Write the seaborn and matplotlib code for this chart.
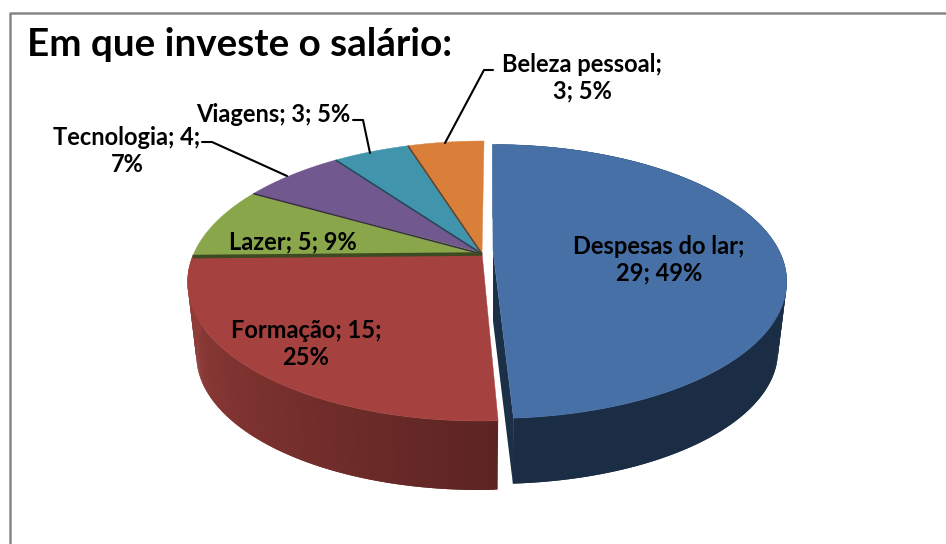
import numpy as np
import matplotlib
matplotlib.use("Agg")
import matplotlib.pyplot as plt
import seaborn as sns
from matplotlib.colors import to_rgb

# =====================================================
# Data
# =====================================================
categories = ["Despesas do lar", "Formação", "Lazer", "Tecnologia", "Viagens", "Beleza pessoal"]
values = [29, 15, 5, 4, 3, 3]
percents = [49, 25, 9, 7, 5, 5]
title = "Em que investe o salário:"

# =====================================================
# Style
# =====================================================
sns.set_theme(style="white")
plt.rcParams["font.family"] = ["Lato", "DejaVu Sans"]

palette = sns.color_palette(["#4670a6", "#a54240", "#8aa64b", "#71588f", "#4095ad", "#d97f3a"])
edge_dark = ["#1b2f47", "#5c2422", "#3d4a22", "#3a2d4a", "#1f4a57", "#6b4020"]
side_shades = {
    0: ["#2a4566", "#1b2d45", "#1b2d45", "#1b2d45", "#1b2d45"],
    1: ["#5c2422", "#6c2b29", "#7c322f", "#8a3936", "#933d3a"],
}

# top disc / bottom disc geometry in pixels; the big slice is pulled out on its own
main_geom = dict(cx=493, cy=250.5, rx=286, ry=130, k=0.226, shear=0.005, bottom_cy=321)
rest_geom = dict(cx=482, cy=253, rx=288, ry=134.4, k=0.2, shear=-0.018, bottom_cy=327)
BOTTOM_SCALE = 0.97


def project(alpha, geom, bottom=False):
    # alpha runs clockwise from 12 o'clock, radians
    u, v = np.sin(alpha), np.cos(alpha)
    s = 1 / (1 + geom["k"] * v)
    dx = geom["rx"] * u * s
    dy = -geom["ry"] * v * s
    cy = geom["cy"]
    if bottom:
        dx, dy = dx * BOTTOM_SCALE, dy * BOTTOM_SCALE
        cy = geom["bottom_cy"]
    return geom["cx"] + dx + geom["shear"] * dy, cy + dy


def shade(colors, t):
    rgb = np.array([to_rgb(c) for c in colors])
    pos = np.linspace(0, 1, len(colors))
    return [np.interp(t, pos, rgb[:, i]) for i in range(3)]


fig = plt.figure(figsize=(9.46, 5.44), dpi=100)
ax = fig.add_axes([0, 0, 1, 1])
ax.set_xlim(0, 946)
ax.set_ylim(544, 0)
ax.axis("off")

# chart frame, runs off the crop at right and bottom
ax.plot([9.5, 9.5, 946], [544, 12.5, 12.5], color="#868686", lw=1.8, solid_capstyle="butt")

# =====================================================
# Slices, back ones first
# =====================================================
edges = np.radians(np.cumsum([0] + values) / sum(values) * 360)
order = [5, 4, 3, 2, 1, 0]

for i in order:
    geom = main_geom if i == 0 else rest_geom
    a0, a1 = edges[i], edges[i + 1]
    arc = np.linspace(a0, a1, 160)

    # side wall, quads overlap so no seams show
    if i in side_shades:
        n = len(arc) - 1
        for j in range(n):
            xt, yt = project(arc[j:j + 3], geom)
            xb, yb = project(arc[j:j + 3], geom, bottom=True)
            px = np.r_[xt, xb[::-1]]
            py = np.r_[yt, yb[::-1]]
            col = shade(side_shades[i], j / n)
            ax.fill(px, py, color=col, lw=0, zorder=2 + 0.1 * (5 - i))

    # cut face of the pulled-out slice
    if i == 0:
        xt, yt = project(a1, geom)
        xb, yb = project(a1, geom, bottom=True)
        ax.fill(
            [geom["cx"], xt, xb, geom["cx"]],
            [geom["cy"], yt, yb, geom["bottom_cy"]],
            color=edge_dark[0], lw=0, zorder=2.5,
        )

    # top surface
    xt, yt = project(arc, geom)
    ax.fill(np.r_[geom["cx"], xt], np.r_[geom["cy"], yt], color=palette[i], lw=0.3, zorder=3 + 0.1 * (5 - i))

    # dark rim on the counter-clockwise cut of the small slices
    if i >= 2:
        xr, yr = project(a0, geom)
        ax.plot([geom["cx"], xr], [geom["cy"] + 1, yr], color=edge_dark[i],
                lw=2.6 if i == 2 else 1.1, zorder=4, solid_capstyle="butt")

# =====================================================
# Labels
# =====================================================
breaks = [1, 2, 0, 2, 0, 1]
label_pos = [(659, 260), (306, 344), (293, 242), (127, 151), (273, 114), (582, 78)]
leaders = {
    3: ([287, 212, 202], [176, 142, 142]),
    4: ([370, 363, 353], [153, 120, 120]),
    5: ([445, 484, 493], [143, 70, 70]),
}

for i, cat in enumerate(categories):
    parts = [f"{cat};", f"{values[i]};", f"{percents[i]}%"]
    b = breaks[i]
    if b:
        text = " ".join(parts[:b]) + "\n" + " ".join(parts[b:])
    else:
        text = " ".join(parts)
    ax.text(label_pos[i][0], label_pos[i][1], text, ha="center", va="center", fontsize=17,
            fontweight="bold", color="black", linespacing=1.2, zorder=6)

for xs, ys in leaders.values():
    ax.plot(xs, ys, color="black", lw=1.5, zorder=5)

ax.text(27, 45, title, ha="left", va="center", fontsize=27.8, fontweight="bold", color="black", zorder=6)

fig.savefig("out.png", dpi=100)
